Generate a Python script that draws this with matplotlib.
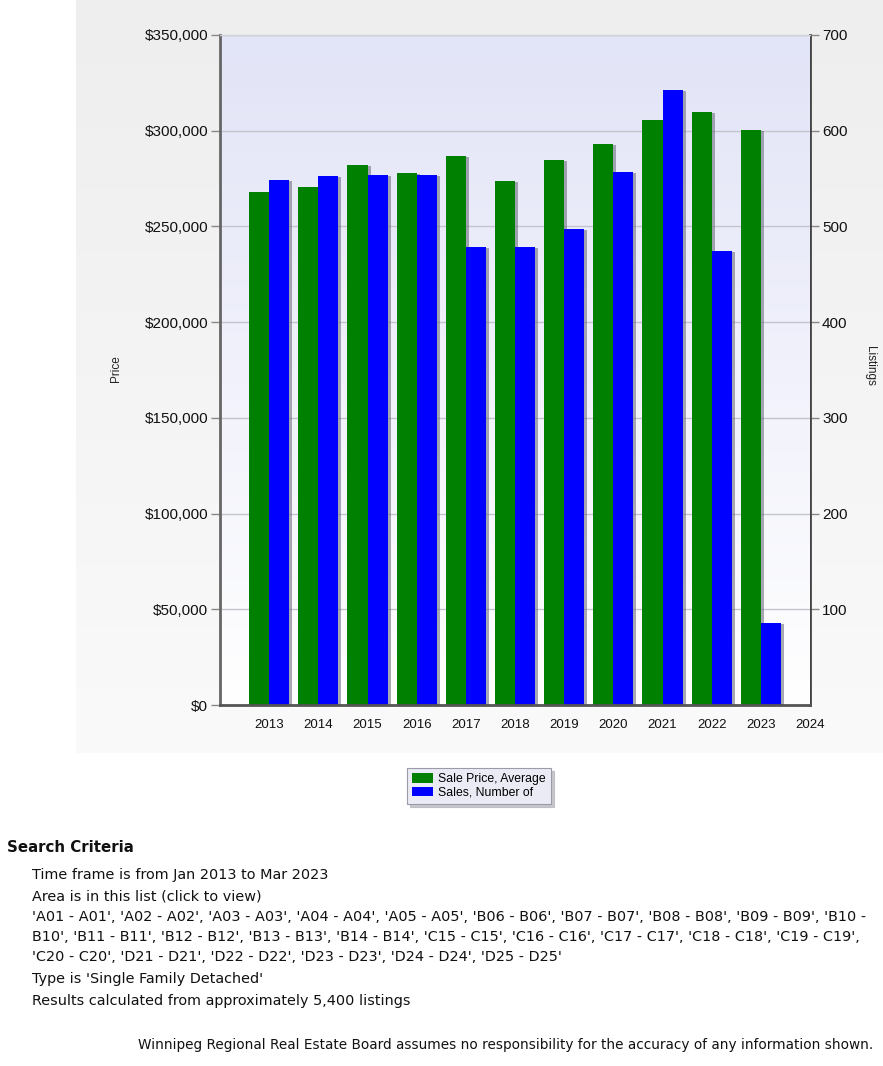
import numpy as np
import matplotlib
matplotlib.use("Agg")
import matplotlib.pyplot as plt
import matplotlib.transforms as mtrans
from matplotlib.ticker import FuncFormatter

years = [2013, 2014, 2015, 2016, 2017, 2018, 2019, 2020, 2021, 2022, 2023]
avg_price = [268000, 270600, 281900, 277700, 286700, 273700, 284700, 293200, 305600, 309900, 300200]
num_sales = [548, 553, 554, 554, 479, 478, 497, 557, 643, 474, 86]
year_labels = ["2013", "2014", "2015", "2016", "2017", "2018", "2019", "2020", "2021", "2022", "2023", "2024"]
series_names = ["Sale Price, Average", "Sales, Number of"]

W, H = 883, 1066
fig = plt.figure(figsize=(W / 100, H / 100), dpi=100)
fig.patch.set_facecolor("white")

def fx(px):
    return px / W

def fy(py):
    return 1 - py / H

PT = 0.72  # points per pixel at 100 dpi

# panel background gradient
bg = fig.add_axes([fx(76), fy(753), fx(883) - fx(76), fy(0) - fy(753)], zorder=-5)
grad = np.linspace(0, 1, 256).reshape(-1, 1)
c_top = np.array([238, 238, 238]) / 255
c_bot = np.array([250, 250, 250]) / 255
img = c_top[None, None, :] * (1 - grad[:, :, None]) + c_bot[None, None, :] * grad[:, :, None]
bg.imshow(img, aspect="auto", extent=[0, 1, 0, 1], origin="upper")
bg.set_axis_off()

left, right, top, bottom = 220, 810, 35, 705
ax = fig.add_axes([fx(left), fy(bottom), fx(right) - fx(left), fy(top) - fy(bottom)])
ax.set_xlim(2012, 2024)
ax.set_ylim(0, 350000)

# plot area gradient
pa = np.linspace(0, 1, 256).reshape(-1, 1)
p_top = np.array([226, 228, 247]) / 255
p_bot = np.array([255, 255, 255]) / 255
pimg = p_top[None, None, :] * (1 - pa[:, :, None]) + p_bot[None, None, :] * pa[:, :, None]
ax.imshow(pimg, aspect="auto", extent=[2012, 2024, 0, 350000], origin="upper", zorder=0)

ax2 = ax.twinx()
ax2.set_ylim(0, 700)
ax.set_zorder(ax2.get_zorder() + 1)
ax.patch.set_visible(False)

x = np.array(years, dtype=float)
bw = 0.41
shadow_tr = mtrans.offset_copy(ax.transData, fig=fig, x=3, y=-1, units="dots")

def sales_to_price(v):
    return np.array(v) * 350000 / 700

ax.bar(x - bw / 2, avg_price, width=bw, color="#707080", alpha=0.6, transform=shadow_tr, zorder=1, linewidth=0)
ax.bar(x + bw / 2, sales_to_price(num_sales), width=bw, color="#707080", alpha=0.6, transform=shadow_tr, zorder=1, linewidth=0)
b1 = ax.bar(x - bw / 2, avg_price, width=bw, color="#008000", zorder=2, linewidth=0, label=series_names[0])
b2 = ax.bar(x + bw / 2, sales_to_price(num_sales), width=bw, color="#0000ff", zorder=2, linewidth=0, label=series_names[1])

ax.set_yticks(np.arange(0, 350001, 50000))
ax.yaxis.set_major_formatter(FuncFormatter(lambda v, p: "${:,.0f}".format(v)))
ax.set_xticks(np.arange(2013, 2025, 1))
ax.set_xticklabels(year_labels)
ax.set_xticks(np.arange(2014, 2025, 2), minor=True)
ax.grid(axis="y", which="major", color="#c4c4cc", linewidth=1, zorder=0.5)
ax.grid(axis="x", which="minor", color="#c4c4cc", linewidth=1, zorder=0.5)
ax.grid(axis="x", which="major", visible=False)
ax.set_axisbelow(True)

ax.tick_params(axis="x", which="major", length=0, pad=10 * PT + 3, labelsize=9.5, labelcolor="#111111")
ax.tick_params(axis="x", which="minor", length=8 * PT, width=1, color="#555555", direction="out")
ax.tick_params(axis="y", which="major", length=9 * PT, width=1, color="#888888", pad=3 * PT, labelsize=11, labelcolor="#111111")

ax2.set_yticks(np.arange(100, 701, 100))
ax2.tick_params(axis="y", length=9 * PT, width=1, color="#888888", pad=3 * PT, labelsize=11, labelcolor="#111111")

for a in (ax, ax2):
    for s in a.spines.values():
        s.set_visible(False)

ax.spines["left"].set_visible(True)
ax.spines["left"].set_color("#666666")
ax.spines["left"].set_linewidth(2)
ax.spines["bottom"].set_visible(True)
ax.spines["bottom"].set_color("#555555")
ax.spines["bottom"].set_linewidth(2)
ax.spines["top"].set_visible(True)
ax.spines["top"].set_color("#d0d0d8")
ax.spines["top"].set_linewidth(1)
ax2.spines["right"].set_visible(True)
ax2.spines["right"].set_color("#444444")
ax2.spines["right"].set_linewidth(2)

for t in ax.get_yticklabels() + ax2.get_yticklabels() + ax.get_xticklabels():
    t.set_fontfamily("Liberation Sans")

fig.text(fx(116), fy(369), "Price", rotation=90, ha="center", va="center", fontsize=8.5,
         family="Liberation Sans", color="#222222")
fig.text(fx(870), fy(366), "Listings", rotation=270, ha="center", va="center", fontsize=8.5,
         family="Liberation Sans", color="#222222")

leg = fig.legend([b1, b2], series_names, loc="center", bbox_to_anchor=(fx(479), fy(786)),
                 frameon=True, fancybox=False, shadow={"color": "#b0b0b8", "alpha": 0.7},
                 prop={"family": "Liberation Sans", "size": 8.8},
                 handlelength=1.7, handleheight=0.85, handletextpad=0.45, labelspacing=0.12,
                 borderpad=0.4, borderaxespad=0)
leg.get_frame().set_facecolor("#ebebf6")
leg.get_frame().set_edgecolor("#9a9aa8")
leg.get_frame().set_linewidth(0.8)

tf = "DejaVu Sans"
fs = 10.4
tc = "#111111"
fig.text(fx(7), fy(847), "Search Criteria", fontsize=10.85, fontweight="bold", family=tf, color=tc, va="center")
lines = [
    (875, "Time frame is from Jan 2013 to Mar 2023"),
    (897, "Area is in this list (click to view)"),
    (917, "'A01 - A01', 'A02 - A02', 'A03 - A03', 'A04 - A04', 'A05 - A05', 'B06 - B06', 'B07 - B07', 'B08 - B08', 'B09 - B09', 'B10 -"),
    (937, "B10', 'B11 - B11', 'B12 - B12', 'B13 - B13', 'B14 - B14', 'C15 - C15', 'C16 - C16', 'C17 - C17', 'C18 - C18', 'C19 - C19',"),
    (957, "'C20 - C20', 'D21 - D21', 'D22 - D22', 'D23 - D23', 'D24 - D24', 'D25 - D25'"),
    (979, "Type is 'Single Family Detached'"),
    (1001, "Results calculated from approximately 5,400 listings"),
]
for yy, s in lines:
    fig.text(fx(32), fy(yy), s, fontsize=fs, family=tf, color=tc, va="center")
fig.text(fx(873), fy(1045), "Winnipeg Regional Real Estate Board assumes no responsibility for the accuracy of any information shown.",
         fontsize=9.8, family=tf, color=tc, va="center", ha="right")

fig.savefig("out.png", dpi=100, facecolor="white")
